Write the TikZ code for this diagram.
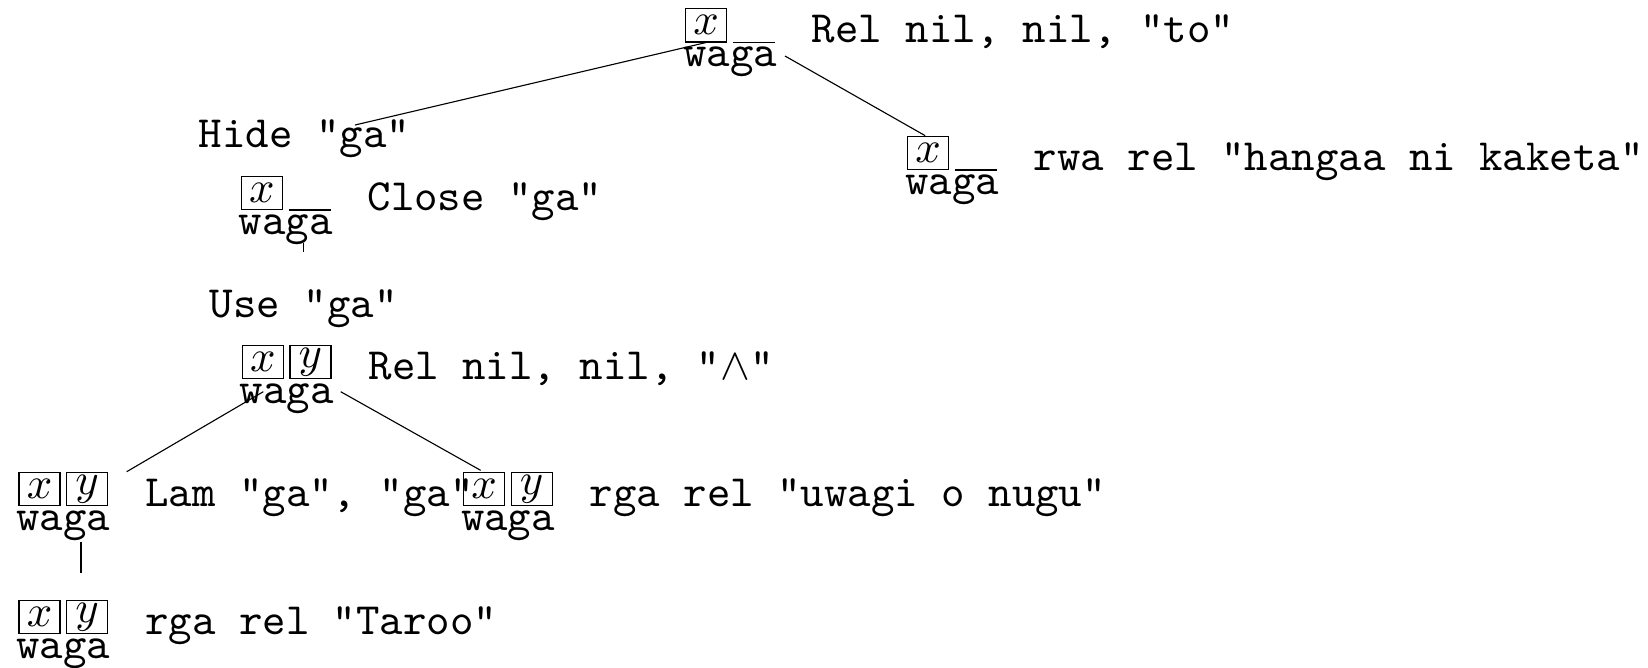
\documentclass[tikz,border=0pt]{standalone}
\usetikzlibrary{calc}
\tikzset{
  lbl/.style={inner sep=0pt, anchor=base west, font=\ttfamily},
  wg/.style={inner sep=0pt, anchor=base, font=\ttfamily},
  vbox/.style={draw, line width=0.3pt, inner sep=0pt, minimum width=9.18pt, minimum height=7.39pt, anchor=south west},
  slotline/.style={line width=0.3pt},
  treeedge/.style={line width=0.25pt},
}
\newcommand\TNodeSlot[3]{%
  \coordinate (#1) at (#2);
  \node[vbox] (#1-x) at (#1) {$x$};
  \draw[slotline] ($(#1)+(48,0)$) -- ($(#1)+(90,0)$);
  \node[wg] (#1-w) at ($(#1)+(45,24)$) {waga};
  \node[lbl] (#1-l) at ($(#1)+(126,0)$) {#3};
}
\newcommand\TNodeXY[3]{%
  \coordinate (#1) at (#2);
  \node[vbox] (#1-x) at (#1) {$x$};
  \node[vbox] (#1-y) at ($(#1)+(47.5,0)$) {$y$};
  \node[wg] (#1-w) at ($(#1)+(45,24)$) {waga};
  \node[lbl] (#1-l) at ($(#1)+(126,0)$) {#3};
}
\begin{document}
\begin{tikzpicture}[x=0.22386pt, y=-0.22386pt]
\useasboundingbox (0,0) rectangle (1648,667);
% nodes
\TNodeSlot{root}{685,42.5}{Rel nil, nil, "to"}
\TNodeSlot{rwa}{907,170}{rwa rel "hangaa ni kaketa"}
\node[lbl] (hide) at (198,147) {Hide "ga"};
\TNodeSlot{close}{240.7,210}{Close "ga"}
\node[lbl] (use) at (209,317) {Use "ga"};
\TNodeXY{and}{241.7,379}{Rel nil, nil, "$\wedge$"}
\TNodeXY{lam}{18.4,506}{Lam "ga", "ga"}
\TNodeXY{uw}{463,506}{rga rel "uwagi o nugu"}
\TNodeXY{taroo}{18.4,634}{rga rel "Taroo"}
% edges
\draw[treeedge] (root-x.south) -- ($(hide.base west)+(157,-22)$);
\draw[treeedge] ($(root-w.base)+(55,-10.5)$) -- ($(rwa-x.north)+(-3,0)$);
\draw[treeedge] ($(close-w.base)+(17.6,9)$) -- ($(close-w.base)+(17.6,18)$);
\draw[treeedge] ($(and)+(21.6,12.7)$) -- ($(lam)+(108.3,-34.3)$);
\draw[treeedge] ($(and)+(99,12.7)$) -- ($(uw-x.north)+(-3.5,-1.3)$);
\draw[treeedge] ($(lam)+(62.6,35.7)$) -- ($(lam)+(62.6,66.7)$);
\end{tikzpicture}
\end{document}
